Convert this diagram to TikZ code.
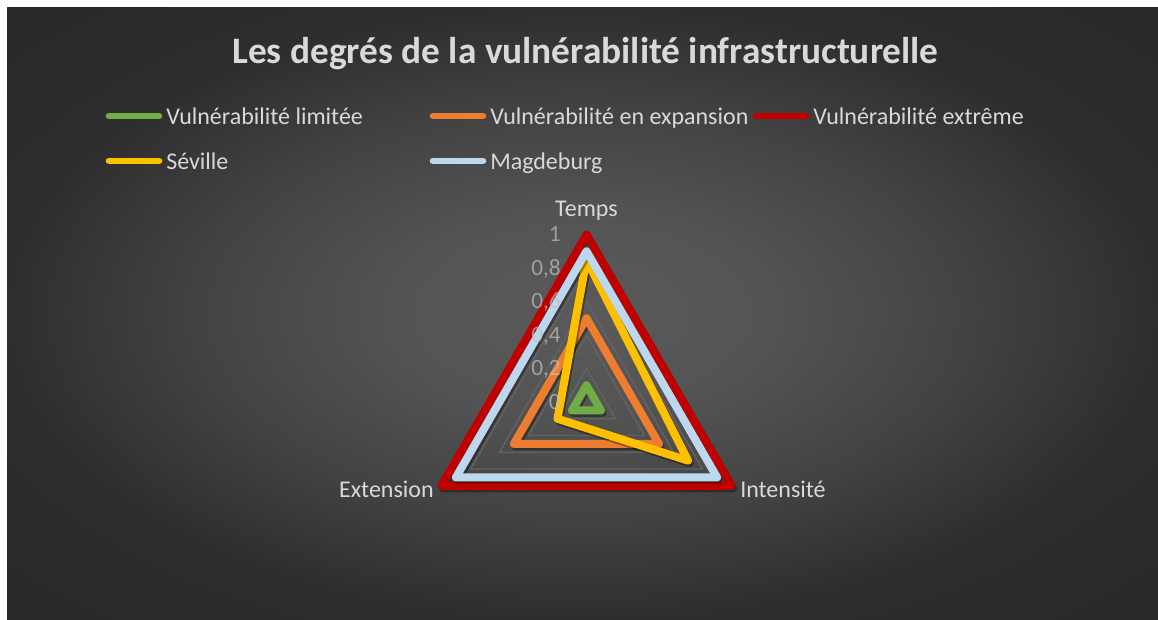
\documentclass[tikz,border=0pt]{standalone}
\usepackage{fontspec}
\setmainfont{Carlito}
\usetikzlibrary{calc}

\definecolor{Limitee}{HTML}{70AD47}
\definecolor{Expansion}{HTML}{ED7D31}
\definecolor{Extreme}{HTML}{C00000}
\definecolor{Seville}{HTML}{FFC000}
\definecolor{Magdeburg}{HTML}{BDD7EE}
\definecolor{texte}{HTML}{D9D9D9}
\definecolor{graduation}{HTML}{BFBFBF}
\definecolor{grille}{HTML}{626262}
\definecolor{fondA}{HTML}{5A5A5A}
\definecolor{fondB}{HTML}{545454}
\definecolor{fondC}{HTML}{424242}
\definecolor{fondD}{HTML}{2E2E2E}
\definecolor{fondE}{HTML}{282828}

\pgfdeclareradialshading{fondradial}{\pgfpoint{0bp}{0bp}}{color(0bp)=(fondA); color(8bp)=(fondB); color(17bp)=(fondC); color(25bp)=(fondD); color(35bp)=(fondE); color(50bp)=(fondE)}

\begin{document}
\begin{tikzpicture}[
    x=0.75pt, y=-0.75pt,
    serie/.style={line width=6pt, line join=round},
    ombre/.style={line width=6pt, line join=round, draw=black, opacity=0.35},
    trame/.style={draw=grille, line width=1.1pt},
    legline/.style={line width=5pt, line cap=round},
    legtext/.style={anchor=base west, inner sep=0pt, text=texte, font=\fontsize{18}{22}\selectfont},
    axlabel/.style={inner sep=0pt, text=texte, font=\fontsize{18}{22}\selectfont},
    ticklabel/.style={anchor=base east, inner sep=0pt, text=graduation, text opacity=0.7, font=\fontsize{17.5}{21}\selectfont}
]
    % Fond
    \fill[white] (0,0) rectangle (1158,619);
    \shade[shading=fondradial] (7,7) rectangle (1158,619);

    % Titre
    \node[inner sep=0pt, anchor=base, text=texte, font=\fontsize{28}{33}\selectfont\bfseries] (titre) at (585.5,63) {Les degrés de la vulnérabilité infrastructurelle};

    % Legende
    \node[legtext] (lgLimitee) at (166,124) {Vulnérabilité limitée};
    \node[legtext] (lgExpansion) at (490,124) {Vulnérabilité en expansion};
    \node[legtext] (lgExtreme) at (813,124) {Vulnérabilité extrême};
    \node[legtext] (lgSeville) at (166,169) {Séville};
    \node[legtext] (lgMagdeburg) at (490,169) {Magdeburg};
    \foreach \nom in {Limitee,Expansion,Extreme,Seville,Magdeburg}
        \draw[legline, draw=\nom] ($(lg\nom.base west)+(-57,-8)$) -- ($(lg\nom.base west)+(-7,-8)$);

    % Radar
    \coordinate (c) at (586.5,402);
    \def\R{167.5}
    \foreach \v in {0.2,0.4,0.6,0.8,1}
        \draw[trame] ($(c)+(-90:{\v*\R})$) -- ($(c)+(30:{\v*\R})$) -- ($(c)+(150:{\v*\R})$) -- cycle;

    \node[axlabel, anchor=base] (temps) at (586.5,216) {Temps};
    \node[axlabel, anchor=base west] (intensite) at (740,497) {Intensité};
    \node[axlabel, anchor=base east] (extension) at (434,497) {Extension};

    % Series
    \foreach \t/\i/\e/\col in {0.1/0.1/0.1/Limitee, 0.5/0.5/0.5/Expansion, 1/1/1/Extreme, 0.85/0.7/0.2/Seville, 0.9/0.9/0.9/Magdeburg}
    {
        \draw[ombre, transform canvas={shift={(1.5,2.5)}}] ($(c)+(-90:{\t*\R})$) -- ($(c)+(30:{\i*\R})$) -- ($(c)+(150:{\e*\R})$) -- cycle;
        \draw[serie, draw=\col] ($(c)+(-90:{\t*\R})$) -- ($(c)+(30:{\i*\R})$) -- ($(c)+(150:{\e*\R})$) -- cycle;
    }

    % Graduations
    \foreach \v/\lab [count=\k] in {0/0, 0.2/{0,2}, 0.4/{0,4}, 0.6/{0,6}, 0.8/{0,8}, 1/1}
        \node[ticklabel] (tick\k) at (561,{409-\v*\R}) {\lab};
\end{tikzpicture}
\end{document}
